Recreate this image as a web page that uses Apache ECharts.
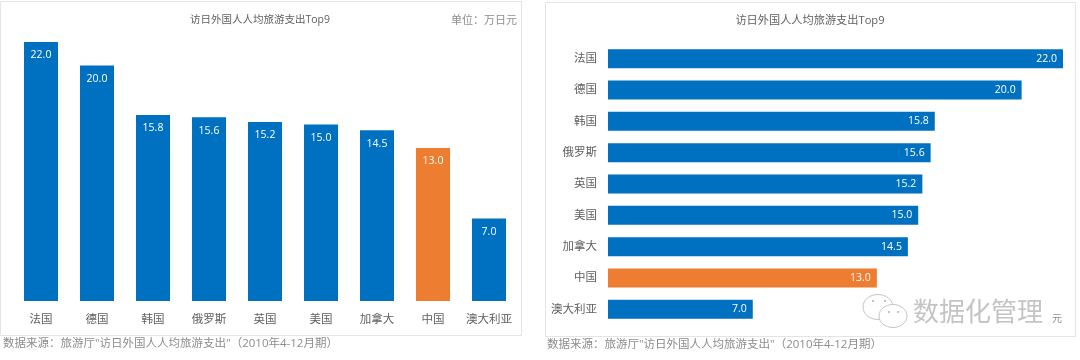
<!DOCTYPE html>
<html>
<head>
<meta charset="utf-8">
<style>
  html, body { margin: 0; padding: 0; background: #fff; }
  #chart { width: 1080px; height: 360px; }
</style>
<script src="https://cdn.jsdelivr.net/npm/echarts@6/dist/echarts.min.js"></script>
</head>
<body>
<div id="chart"></div>
<script>
const categories = ["法国", "德国", "韩国", "俄罗斯", "英国", "美国", "加拿大", "中国", "澳大利亚"];
const spending = [22.0, 20.0, 15.8, 15.6, 15.2, 15.0, 14.5, 13.0, 7.0];
const highlight = "中国";

const title = "访日外国人人均旅游支出Top9";
const unitLabel = "单位：万日元";
const sourceNote = "数据来源：旅游厅\"访日外国人人均旅游支出\"（2010年4-12月期）";
const watermark = "数据化管理";

const FONT = '"Open Sans", "Noto Sans CJK SC", sans-serif';
const BLUE = "#0070c0";
const ORANGE = "#ed7d31";
const TEXT = "#5f5f5f";
const GREY = "#8c8c8c";

const barData = spending.map((v, i) => ({
  value: v,
  itemStyle: { color: categories[i] === highlight ? ORANGE : BLUE },
}));

function label(x, y, text, color, size, align) {
  return {
    type: "text",
    x,
    y,
    z: 5,
    style: {
      text,
      fill: color,
      font: `${size}px ${FONT}`,
      align: align || "left",
      verticalAlign: "middle",
    },
  };
}

function panel(x, y, width, height) {
  return {
    type: "rect",
    z: -1,
    shape: { x, y, width, height },
    style: { fill: "#fff", stroke: "#e4e4e4", lineWidth: 1 },
  };
}

function bubble(cx, cy, rx, ry) {
  return {
    type: "ellipse",
    z: 6,
    shape: { cx, cy, rx, ry },
    style: { fill: "#fff", stroke: "#c4c4c4", lineWidth: 1 },
  };
}

function eye(cx, cy) {
  return {
    type: "circle",
    z: 7,
    shape: { cx, cy, r: 1 },
    style: { fill: "#b0b0b0" },
  };
}

const valueLabel = {
  show: true,
  color: "#fff",
  fontSize: 10.5,
  fontFamily: FONT,
  formatter: (p) => p.value.toFixed(1),
};

const catLabel = { color: TEXT, fontSize: 11.5, fontFamily: FONT, interval: 0 };

const chart = echarts.init(document.getElementById("chart"), undefined, { renderer: "canvas" });
chart.setOption({
  backgroundColor: "#fff",
  animation: false,
  graphic: [
    panel(0.5, 1.5, 521, 334),
    panel(545.5, 2.5, 530, 334),
    label(260, 20, title, TEXT, 10.5, "center"),
    label(517, 21, unitLabel, GREY, 11, "right"),
    label(810, 21, title, TEXT, 11.2, "center"),
    label(3, 344, sourceNote, GREY, 11.5),
    label(547, 345, sourceNote, GREY, 11.5),
    label(1062, 319, "元", GREY, 10, "right"),
    bubble(878, 307, 15, 12.5),
    bubble(893, 316, 14, 11.5),
    eye(873, 301),
    eye(885, 301),
    eye(889, 312),
    eye(898, 312),
    label(913, 314, watermark, "#c4c4c4", 26),
  ],
  grid: [
    { left: 13, top: 42, width: 504, height: 259 },
    { left: 608, top: 43, width: 455, height: 282 },
  ],
  xAxis: [
    {
      gridIndex: 0,
      type: "category",
      data: categories,
      axisLine: { show: false },
      axisTick: { show: false },
      axisLabel: { ...catLabel, margin: 13 },
    },
    { gridIndex: 1, type: "value", min: 0, max: 22, show: false },
  ],
  yAxis: [
    { gridIndex: 0, type: "value", min: 0, max: 22, show: false },
    {
      gridIndex: 1,
      type: "category",
      inverse: true,
      data: categories,
      axisLine: { show: false },
      axisTick: { show: false },
      axisLabel: { ...catLabel, margin: 11, padding: [2, 0, 0, 0] },
    },
  ],
  series: [
    {
      type: "bar",
      xAxisIndex: 0,
      yAxisIndex: 0,
      barWidth: 34,
      data: barData,
      label: { ...valueLabel, position: "insideTop", distance: 8 },
    },
    {
      type: "bar",
      xAxisIndex: 1,
      yAxisIndex: 1,
      barWidth: 19,
      data: barData,
      label: { ...valueLabel, position: "insideRight", distance: 6 },
    },
  ],
});
</script>
</body>
</html>
